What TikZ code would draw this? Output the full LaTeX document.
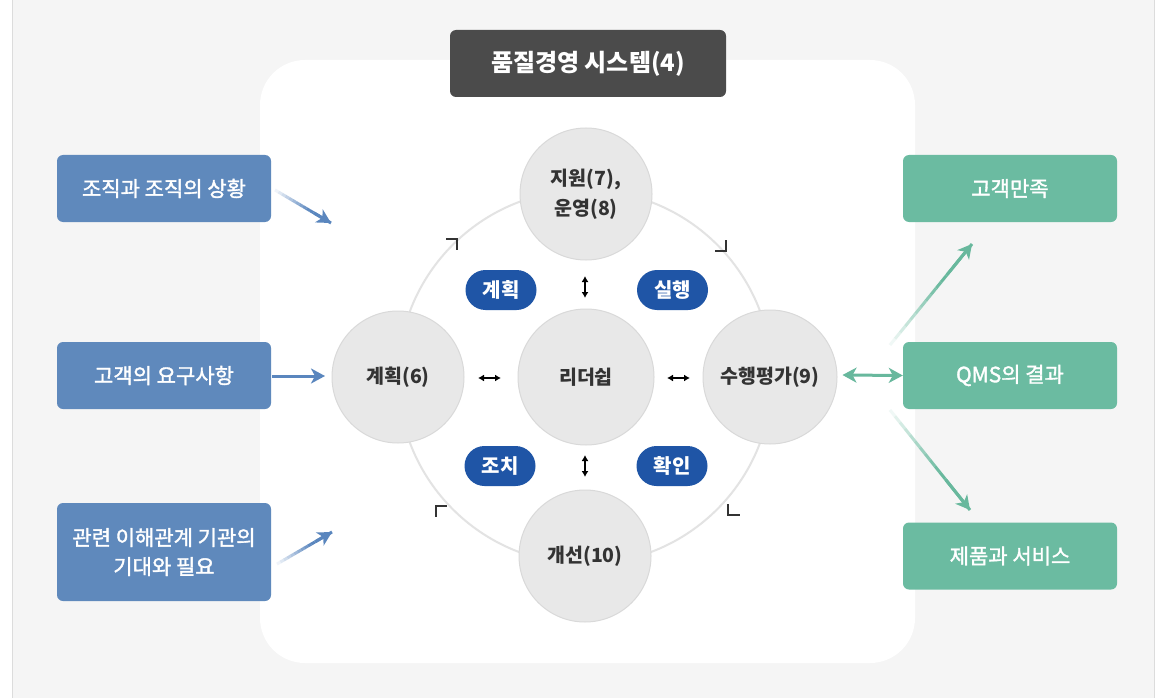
\documentclass[tikz,border=0pt]{standalone}
\usepackage{fontspec}
\setmainfont{Noto Sans CJK KR}
\newfontfamily\krmed[FakeBold=1.6]{Noto Sans CJK KR}
\usetikzlibrary{arrows.meta,calc}
\definecolor{bggray}{HTML}{F5F5F5}
\definecolor{edgegray}{HTML}{DCDCDC}
\definecolor{titlegray}{HTML}{4B4B4B}
\definecolor{boxblue}{HTML}{5F89BC}
\definecolor{boxgreen}{HTML}{6BBBA1}
\definecolor{arrblue}{HTML}{5A86BE}
\definecolor{arrgreen}{HTML}{68B89D}
\definecolor{pillblue}{HTML}{1F55A6}
\definecolor{circfill}{HTML}{E8E8E8}
\definecolor{circedge}{HTML}{D9D9D9}
\definecolor{ringgray}{HTML}{E3E3E3}
\definecolor{txtdark}{HTML}{333333}
\newcommand\fadearrow[3]{%
  \foreach \i in {0,...,15} {%
    \pgfmathsetmacro\ta{\i/16}%
    \pgfmathsetmacro\tb{(\i+1)/16}%
    \pgfmathsetmacro\pc{min(100,\tb*100/0.65)}%
    \draw[line width=3, line cap=butt, #3!\pc!white] ($(#1)!\ta!(#2)$) -- ($(#1)!\tb!(#2)$);
  }%
  \draw[line width=3, #3, -{Stealth[length=14pt,width=15pt,inset=4pt]}] ($(#1)!0.7!(#2)$) -- (#2);
}
\begin{document}
\begin{tikzpicture}[x=1pt,y=-1pt,
  sidebox/.style={rounded corners=6pt, minimum width=214pt, minimum height=67pt, text=white, font=\krmed\fontsize{21}{29}\selectfont, align=center, inner sep=0pt},
  bluebox/.style={sidebox, fill=boxblue},
  greenbox/.style={sidebox, fill=boxgreen},
  stage/.style={circle, fill=circfill, draw=circedge, line width=1pt, minimum size=132pt, inner sep=0pt, text=txtdark, font=\bfseries\fontsize{19.5}{30}\selectfont, align=center},
  pill/.style={rounded corners=20pt, fill=pillblue, minimum width=71pt, minimum height=40pt, inner sep=0pt, text=white, font=\bfseries\fontsize{20}{22}\selectfont},
  chev/.style={draw=txtdark, line width=2.6pt},
  smallarr/.style={line width=1.5pt, black, {Latex[length=6pt,width=7pt]}-{Latex[length=6pt,width=7pt]}}
]
\useasboundingbox (0,0) rectangle (1170,698);
\fill[white] (0,0) rectangle (1170,698);
\fill[bggray] (12,0) rectangle (1155,698);
\draw[edgegray, line width=1.5pt] (12.5,0) -- (12.5,698);
\draw[edgegray, line width=1pt] (1154.5,0) -- (1154.5,698);
% white panel
\fill[white, rounded corners=45pt] (260,60) rectangle (915,663);
% title
\node[fill=titlegray, rounded corners=6pt, minimum width=276pt, minimum height=67pt, inner sep=0pt, text=white, font=\bfseries\fontsize{24}{26}\selectfont] (title) at (588,63.5) {품질경영 시스템(4)};
% ring
\draw[ringgray, line width=2pt] (585,377) circle[radius=187pt];
% chevrons
\draw[chev] (446,239) -- (457,239) -- (457,250);
\draw[chev] (726,240) -- (726,251) -- (715,251);
\draw[chev] (447,506) -- (436,506) -- (436,517);
\draw[chev] (728,504) -- (728,515) -- (740,515);
% circles
\node[stage] (top) at (586,194) {지원(7),\\운영(8)};
\node[stage] (left) at (398,377) {계획(6)};
\node[stage, minimum size=136pt] (lead) at (586,377) {리더쉽};
\node[stage, minimum size=134pt] (right) at (770,377) {수행평가(9)};
\node[stage] (bottom) at (585,556) {개선(10)};
% pills
\node[pill] (p1) at (501,290) {계획};
\node[pill] (p2) at (672.5,290) {실행};
\node[pill] (p3) at (500,466) {조치};
\node[pill] (p4) at (672,466) {확인};
% small double arrows
\coordinate (v1a) at (585,276); \coordinate (v1b) at (585,298);
\coordinate (v2a) at (585,455); \coordinate (v2b) at (585,477);
\coordinate (h1a) at (478,378); \coordinate (h1b) at (501,378);
\coordinate (h2a) at (667,378); \coordinate (h2b) at (690,378);
\draw[smallarr] (v1a) -- (v1b);
\draw[smallarr] (v2a) -- (v2b);
\draw[smallarr] (h1a) -- (h1b);
\draw[smallarr] (h2a) -- (h2b);
% left boxes
\node[bluebox] (l1) at (164,188.5) {조직과 조직의 상황};
\node[bluebox] (l2) at (164,375.5) {고객의 요구사항};
\node[bluebox, minimum height=98pt] (l3) at (164,552) {관련 이해관계 기관의\\기대와 필요};
% right boxes
\node[greenbox] (r1) at (1010,188.5) {고객만족};
\node[greenbox] (r2) at (1010,375.5) {QMS의 결과};
\node[greenbox] (r3) at (1010,556) {제품과 서비스};
% arrows left
\coordinate (a1s) at (275,190); \coordinate (a1e) at (331,223);
\coordinate (a2s) at (272,376); \coordinate (a2e) at (325,376);
\coordinate (a3s) at (277,564); \coordinate (a3e) at (332,532);
\fadearrow{a1s}{a1e}{arrblue}
\draw[line width=3pt, arrblue, -{Stealth[length=14pt,width=15pt,inset=4pt]}] (a2s) -- (a2e);
\fadearrow{a3s}{a3e}{arrblue}
% arrows right
\draw[line width=3pt, arrgreen, {Stealth[length=14pt,width=15pt,inset=4pt]}-{Stealth[length=14pt,width=15pt,inset=4pt]}] (right.east) ++(5,-2) coordinate (d1) -- (r2.west);
\coordinate (g1s) at (890,345); \coordinate (g1e) at (972,244);
\coordinate (g2s) at (890,410); \coordinate (g2e) at (970,510);
\fadearrow{g1s}{g1e}{arrgreen}
\fadearrow{g2s}{g2e}{arrgreen}
\end{tikzpicture}
\end{document}
